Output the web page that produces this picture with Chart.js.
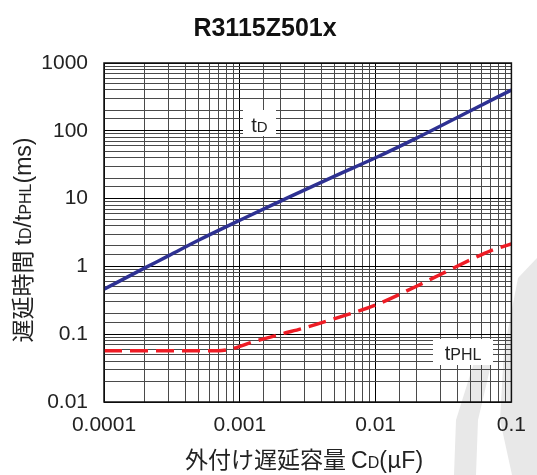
<!DOCTYPE html>
<html>
<head>
<meta charset="utf-8">
<script src="https://cdn.jsdelivr.net/npm/chart.js@4/dist/chart.umd.min.js"></script>
<style>
  html, body { margin: 0; padding: 0; background: #fff; }
  #wrap { width: 537px; height: 475px; }
</style>
</head>
<body>
<div id="wrap"><canvas id="c" width="537" height="475"></canvas></div>
<script>
// External delay capacitor CD (µF) vs. delay time (ms)
const capTD   = [0.0001, 0.0002, 0.0003, 0.0005, 0.001, 0.002, 0.005, 0.01, 0.02, 0.05, 0.1];
const delayTD = [0.46,   0.95,   1.44,   2.45,   4.8,   9.2,   21.5,  40,   78,   198,  400];

const capTPHL   = [0.0001, 0.0007, 0.0009, 0.0012, 0.002, 0.003, 0.005, 0.01, 0.02, 0.03, 0.05, 0.07, 0.1];
const delayTPHL = [0.057,  0.057,  0.062,  0.075,  0.1,   0.124, 0.17,  0.27, 0.51, 0.76, 1.25, 1.7,  2.15];

const xTickValues = [0.0001, 0.001, 0.01, 0.1];
const xTickLabels = ['0.0001', '0.001', '0.01', '0.1'];
const yTickValues = [0.01, 0.1, 1, 10, 100, 1000];
const yTickLabels = ['0.01', '0.1', '1', '10', '100', '1000'];

const SANS = '"Liberation Sans", Arial, sans-serif';
const CJK = '"Noto Sans CJK JP", "Liberation Sans", sans-serif';

function decadeLabel(value, values, labels) {
  for (let i = 0; i < values.length; i++) {
    if (Math.abs(Math.log10(value) - Math.log10(values[i])) < 1e-6) return labels[i];
  }
  return '';
}
function isDecade(v) {
  const l = Math.log10(v);
  return Math.abs(l - Math.round(l)) < 1e-6;
}

// draws runs of text with different fonts on one baseline, centred on x
function drawRuns(ctx, runs, x, y) {
  let total = 0;
  runs.forEach(r => { ctx.font = r.font; r.w = ctx.measureText(r.text).width; total += r.w; });
  let cx = x - total / 2;
  ctx.textAlign = 'left';
  ctx.textBaseline = 'alphabetic';
  runs.forEach(r => { ctx.font = r.font; ctx.fillText(r.text, cx, y); cx += r.w; });
}

const decorations = {
  id: 'decorations',
  beforeDraw(chart) {
    const ctx = chart.ctx;
    ctx.save();
    ctx.fillStyle = '#fff';
    ctx.fillRect(0, 0, chart.width, chart.height);
    // faint background mark at lower right
    ctx.fillStyle = '#e8e8e8';
    ctx.beginPath();
    ctx.moveTo(476, 356); ctx.lineTo(494, 352); ctx.lineTo(478, 420);
    ctx.lineTo(476, 475); ctx.lineTo(454, 475); ctx.lineTo(456, 420);
    ctx.closePath(); ctx.fill();
    ctx.beginPath();
    ctx.moveTo(537, 258); ctx.lineTo(537, 475); ctx.lineTo(512, 475);
    ctx.lineTo(500, 420); ctx.lineTo(504, 350); ctx.lineTo(518, 278);
    ctx.closePath(); ctx.fill();
    ctx.restore();
  },
  afterDatasetsDraw(chart) {
    const ctx = chart.ctx;
    const a = chart.chartArea;
    ctx.save();
    // series name boxes
    ctx.fillStyle = '#fff';
    ctx.fillRect(243, 110, 33, 26);
    ctx.fillRect(433, 339, 60, 26);
    ctx.fillStyle = '#222';
    drawRuns(ctx, [
      { text: 't', font: '20px ' + SANS },
      { text: 'D', font: '15px ' + SANS }
    ], 259.5, 132);
    drawRuns(ctx, [
      { text: 't', font: '20px ' + SANS },
      { text: 'PHL', font: '16px ' + SANS }
    ], 463, 360);
    // plot frame
    ctx.strokeStyle = '#111';
    ctx.lineWidth = 1.5;
    ctx.strokeRect(a.left, a.top, a.right - a.left, a.bottom - a.top);
    ctx.restore();
  },
  afterDraw(chart) {
    const ctx = chart.ctx;
    ctx.save();
    ctx.fillStyle = '#111';
    ctx.font = 'bold 25px ' + SANS;
    ctx.textAlign = 'center';
    ctx.textBaseline = 'alphabetic';
    ctx.fillText('R3115Z501x', 265, 36);

    ctx.fillStyle = '#222';
    drawRuns(ctx, [
      { text: '外付け遅延容量 ', font: '23px ' + CJK },
      { text: 'C', font: '23px ' + SANS },
      { text: 'D', font: '16px ' + SANS },
      { text: '(', font: '23px ' + SANS },
      { text: 'μ', font: '23px ' + CJK },
      { text: 'F)', font: '23px ' + SANS }
    ], 304, 468);

    ctx.translate(31, 240);
    ctx.rotate(-Math.PI / 2);
    drawRuns(ctx, [
      { text: '遅延時間 ', font: '23px ' + CJK },
      { text: 't', font: '23px ' + SANS },
      { text: 'D', font: '16px ' + SANS },
      { text: '/t', font: '23px ' + SANS },
      { text: 'PHL', font: '16px ' + SANS },
      { text: '(ms)', font: '23px ' + SANS }
    ], 0, 0);
    ctx.restore();
  }
};

new Chart(document.getElementById('c'), {
  type: 'line',
  data: {
    datasets: [
      {
        label: 'tD',
        data: capTD.map((x, i) => ({ x, y: delayTD[i] })),
        borderColor: '#2e3192',
        borderWidth: 3.5,
        pointRadius: 0,
        cubicInterpolationMode: 'monotone'
      },
      {
        label: 'tPHL',
        data: capTPHL.map((x, i) => ({ x, y: delayTPHL[i] })),
        borderColor: '#ee1c25',
        borderWidth: 3.5,
        borderDash: [18, 8],
        pointRadius: 0,
        cubicInterpolationMode: 'monotone'
      }
    ]
  },
  options: {
    responsive: false,
    animation: false,
    devicePixelRatio: 1,
    layout: { padding: { left: 0, right: 17, top: 63, bottom: 0 } },
    plugins: { legend: { display: false }, title: { display: false }, tooltip: { enabled: false } },
    scales: {
      x: {
        type: 'logarithmic',
        min: 0.0001,
        max: 0.1,
        afterFit(scale) { scale.height = 73; },
        grid: {
          drawTicks: false,
          color: c => isDecade(c.tick.value) ? '#000' : '#4a4a4a',
          lineWidth: 1
        },
        border: { display: false },
        ticks: {
          autoSkip: false,
          maxRotation: 0,
          padding: 11,
          color: '#222',
          font: { family: SANS, size: 21 },
          callback: v => decadeLabel(v, xTickValues, xTickLabels)
        }
      },
      y: {
        type: 'logarithmic',
        min: 0.01,
        max: 1000,
        afterFit(scale) { scale.width = 104; },
        grid: {
          drawTicks: false,
          color: c => isDecade(c.tick.value) ? '#000' : '#4a4a4a',
          lineWidth: 1
        },
        border: { display: false },
        ticks: {
          autoSkip: false,
          padding: 16,
          color: '#222',
          font: { family: SANS, size: 21 },
          callback: v => decadeLabel(v, yTickValues, yTickLabels)
        }
      }
    }
  },
  plugins: [decorations]
});
</script>
</body>
</html>
